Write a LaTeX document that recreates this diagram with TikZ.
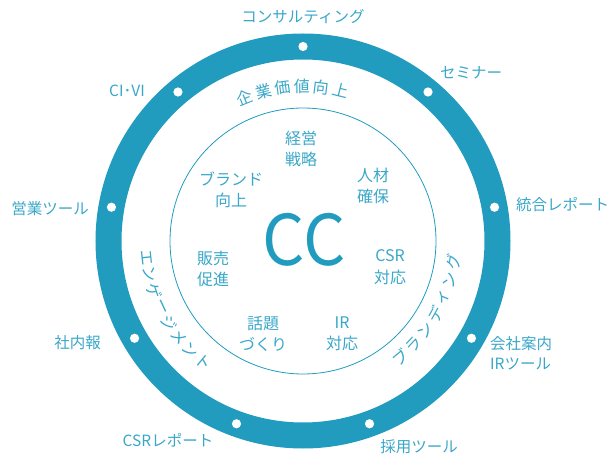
\documentclass[tikz,border=0pt]{standalone}
\usepackage{fontspec}
\setmainfont{Noto Sans CJK JP}
\usetikzlibrary{calc}
\definecolor{ringc}{RGB}{33,156,190}
\definecolor{txtc}{RGB}{58,167,201}
\begin{document}
\begin{tikzpicture}[x=1pt,y=1pt,
  lbl/.style={text=txtc,font=\fontsize{15.5}{20}\selectfont,inner sep=0pt},
  inlbl/.style={text=txtc,font=\fontsize{16}{21.5}\selectfont,inner sep=0pt,align=center},
  arcc/.style={text=txtc,font=\fontsize{16}{18}\selectfont,inner sep=0pt},
  dotc/.style={circle,fill=white,draw=none,minimum size=9.2pt,inner sep=0pt}]
\useasboundingbox (0,0) rectangle (611,461);
\coordinate (C) at (303,220);
% ring and inner circle
\draw[ringc, line width=26pt] (C) circle[radius=194.5];
\draw[ringc, line width=0.8pt] (C) circle[radius=133];
% dots
\foreach \a [count=\i] in {90,130,170,210,250,290,330,10,50}
  \node[dotc] (d\i) at ($(C)+(\a:194.5)$) {};
% outer labels
\node[lbl] (l1) at (303,444) {コンサルティング};
\node[lbl] (l2) at (471,388) {セミナー};
\node[lbl,anchor=east] (l3) at (145,370) {CI･VI};
\node[lbl,anchor=west] (l4) at (516,256) {統合レポート};
\node[lbl,anchor=east] (l5) at (89,252) {営業ツール};
\node[lbl,anchor=east] (l6) at (101,118) {社内報};
\node[lbl,anchor=west,align=left,font=\fontsize{15.5}{20}\selectfont] (l7) at (490,108) {会社案内\\IRツール};
\node[lbl] (l8) at (168,21) {CSRレポート};
\node[lbl] (l9) at (419,14) {採用ツール};
% inner labels
\node[inlbl] (i1) at (301,312) {経営\\戦略};
\node[inlbl] (i2) at (231,271) {ブランド\\向上};
\node[inlbl] (i3) at (373,275) {人材\\確保};
\node[inlbl] (i4) at (213,192) {販売\\促進};
\node[inlbl] (i5) at (390,194) {CSR\\対応};
\node[inlbl] (i6) at (263,127) {話題\\づくり};
\node[inlbl] (i7) at (342,127) {IR\\対応};
\node[text=ringc,font=\fontsize{70}{70}\selectfont,inner sep=0pt,anchor=base,xscale=0.95] (cc) at (304,195) {CC};
% arc texts
\foreach \ch [count=\i] in {企,業,価,値,向,上}{
  \pgfmathsetmacro\ang{112-(\i-1)*7.2}
  \node[arcc,rotate=\ang-90] (k\i) at ($(C)+(\ang:155)$) {\ch};}
\foreach \ch [count=\i] in {エ,ン,ゲ,ー,ジ,メ,ン,ト}{
  \pgfmathsetmacro\ang{186+(\i-1)*6.35}
  \node[arcc,rotate=\ang+90] (e\i) at ($(C)+(\ang:157)$) {\ch};}
\foreach \ch [count=\i] in {ブ,ラ,ン,デ,ィ,ン,グ}{
  \pgfmathsetmacro\ang{-50+(\i-1)*7}
  \node[arcc,rotate=\ang+90] (b\i) at ($(C)+(\ang:152)$) {\ch};}
\end{tikzpicture}
\end{document}
